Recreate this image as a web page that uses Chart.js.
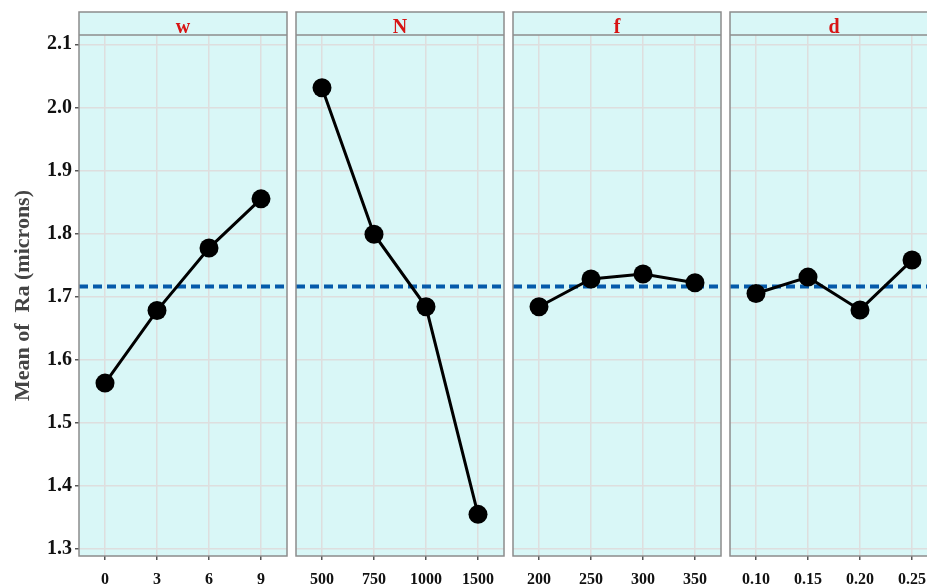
<!DOCTYPE html>
<html>
<head>
<meta charset="utf-8">
<script src="https://cdn.jsdelivr.net/npm/chart.js@4.4.1/dist/chart.umd.min.js"></script>
<style>
    html, body { margin: 0; padding: 0; background: #fff; }
    .wrap { position: relative; width: 927px; height: 585px; overflow: hidden; }
    .wrap canvas { position: absolute; top: 0; }
</style>
</head>
<body>
<div class="wrap" id="wrap"></div>
<script>
// factor names (strip labels) and level means
const factorNames = ['w', 'N', 'f', 'd'];
const wLevels = ['0', '3', '6', '9'];
const wMeans = [1.563, 1.678, 1.777, 1.855];
const nLevels = ['500', '750', '1000', '1500'];
const nMeans = [2.031, 1.799, 1.684, 1.355];
const fLevels = ['200', '250', '300', '350'];
const fMeans = [1.684, 1.728, 1.736, 1.722];
const dLevels = ['0.10', '0.15', '0.20', '0.25'];
const dMeans = [1.705, 1.731, 1.679, 1.758];
const grandMean = 1.716;
const yMin = 1.289;
const yMax = 2.1147;
const yStep = 0.1;
const yTitle = 'Mean of  Ra (microns)';

const levels = [wLevels, nLevels, fLevels, dLevels];
const means = [wMeans, nMeans, fMeans, dMeans];

// layout
const SERIF = '"Liberation Serif", "Times New Roman", serif';
const PANEL_BG = 'rgb(217,247,247)';
const GRID = '#dedede';
const BORDER = '#8c8c8c';
const STRIP_TOP = 12;
const AREA_TOP = 35;
const panelLeft = [79, 296, 513, 730];
const panelWidth = 208;

const panelPlugin = {
    id: 'panel',
    beforeDraw(chart) {
        const { ctx, chartArea: a } = chart;
        ctx.save();
        ctx.fillStyle = PANEL_BG;
        ctx.fillRect(a.left, STRIP_TOP, a.right - a.left, a.bottom - STRIP_TOP);
        ctx.restore();
    },
    beforeDatasetsDraw(chart) {
        const { ctx, chartArea: a, scales } = chart;
        const y = scales.y.getPixelForValue(grandMean);
        ctx.save();
        ctx.strokeStyle = 'rgb(5,90,170)';
        ctx.lineWidth = 4;
        ctx.setLineDash([9, 5]);
        ctx.beginPath();
        ctx.moveTo(a.left, y);
        ctx.lineTo(a.right, y);
        ctx.stroke();
        ctx.restore();
    },
    afterDraw(chart, args, opts) {
        const { ctx, chartArea: a } = chart;
        ctx.save();
        ctx.strokeStyle = BORDER;
        ctx.lineWidth = 1.5;
        ctx.strokeRect(a.left, STRIP_TOP, a.right - a.left, a.bottom - STRIP_TOP);
        ctx.beginPath();
        ctx.moveTo(a.left, a.top);
        ctx.lineTo(a.right, a.top);
        ctx.stroke();
        ctx.fillStyle = 'rgb(215,20,20)';
        ctx.font = 'bold 20px ' + SERIF;
        ctx.textAlign = 'center';
        ctx.textBaseline = 'alphabetic';
        ctx.fillText(opts.label, (a.left + a.right) / 2, a.top - 2);
        ctx.restore();
    }
};

const wrap = document.getElementById('wrap');

factorNames.forEach((name, i) => {
    const first = i === 0;
    const canvas = document.createElement('canvas');
    const left = first ? 0 : panelLeft[i] - 1;
    const width = first ? panelLeft[0] + panelWidth + 1 : panelWidth + 2;
    canvas.width = width;
    canvas.height = 585;
    canvas.style.left = left + 'px';
    wrap.appendChild(canvas);

    new Chart(canvas.getContext('2d'), {
        type: 'line',
        data: {
            labels: levels[i],
            datasets: [{
                data: means[i],
                borderColor: '#000',
                borderWidth: 3,
                tension: 0,
                pointRadius: 9.5,
                pointBackgroundColor: '#000',
                pointBorderWidth: 0,
                clip: false,
            }],
        },
        options: {
            responsive: false,
            animation: false,
            devicePixelRatio: 1,
            layout: {
                autoPadding: false,
                padding: { top: AREA_TOP, left: first ? 0 : 1, right: 1, bottom: 0 },
            },
            plugins: {
                legend: { display: false },
                tooltip: { enabled: false },
                panel: { label: name },
            },
            scales: {
                x: {
                    type: 'category',
                    offset: true,
                    afterFit(s) { s.height = 29; },
                    border: { display: false },
                    grid: { color: GRID, lineWidth: 1.5, offset: false, tickLength: 4, tickColor: '#555' },
                    ticks: {
                        padding: 10,
                        color: '#111',
                        maxRotation: 0,
                        autoSkip: false,
                        font: { family: SERIF, size: 16, weight: 'bold' },
                    },
                },
                y: {
                    min: yMin,
                    max: yMax,
                    afterFit(s) { s.width = first ? panelLeft[0] : 0; },
                    border: { display: false },
                    grid: {
                        color: GRID,
                        lineWidth: 1.5,
                        drawTicks: first,
                        tickLength: 4,
                        tickColor: '#555',
                    },
                    ticks: {
                        display: first,
                        stepSize: yStep,
                        includeBounds: false,
                        padding: 3,
                        color: '#111',
                        font: { family: SERIF, size: 20, weight: 'bold' },
                        callback: (v) => v.toFixed(1),
                    },
                    title: {
                        display: first,
                        text: yTitle,
                        color: '#444',
                        padding: { top: 10, bottom: 0 },
                        font: { family: SERIF, size: 22, weight: 'bold' },
                    },
                },
            },
        },
        plugins: [panelPlugin],
    });
});
</script>
</body>
</html>
